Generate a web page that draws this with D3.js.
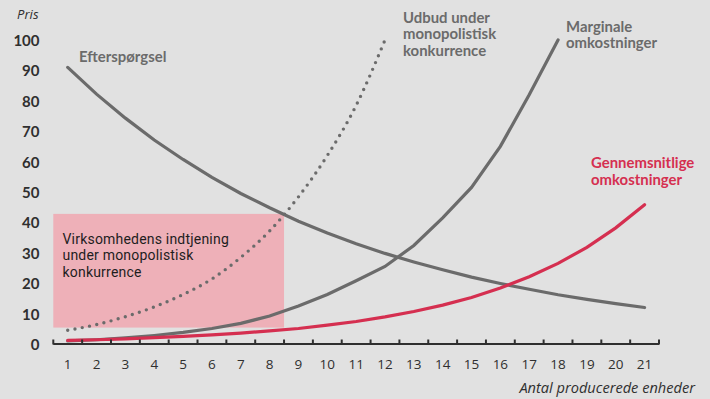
<!DOCTYPE html>
<html lang="da">
<head>
<meta charset="utf-8">
<script src="https://cdn.jsdelivr.net/npm/d3@7"></script>
<style>
  html, body { margin: 0; padding: 0; background: #e1e1e1; }
  svg { display: block; font-family: Lato, "Open Sans", sans-serif; }
</style>
</head>
<body>
<svg id="chart" width="710" height="399"></svg>
<script>
// Quantities produced (x categories)
const quantities = d3.range(1, 22);
// Price axis ticks
const priceTicks = [0, 10, 20, 30, 40, 50, 60, 70, 80, 90, 100];

// Demand curve (Efterspørgsel), one value per quantity 1..21
const demand = [91.0, 82.2, 74.3, 67.1, 60.7, 54.8, 49.5, 44.8, 40.4, 36.5, 33.0,
                29.8, 27.0, 24.4, 22.0, 19.9, 18.0, 16.2, 14.7, 13.3, 12.0];
// Supply under monopolistic competition, quantities 1..12
const supplyMonopolistic = [4.5, 6.4, 9.0, 12.2, 16.3, 21.4, 28.5, 37.2, 48.4, 62.0, 78.5, 100];
// Marginal cost, quantities 1..18
const marginalCost = [1.0, 1.4, 2.0, 2.8, 3.8, 5.1, 6.8, 9.2, 12.5, 16.3, 20.8, 25.5,
                      32.4, 41.5, 51.5, 65.0, 82.0, 100];
// Average cost, quantities 1..21
const averageCost = [1.2, 1.4, 1.7, 2.1, 2.5, 3.0, 3.6, 4.3, 5.1, 6.2, 7.4, 8.9,
                     10.7, 12.8, 15.3, 18.4, 22.1, 26.5, 31.8, 38.2, 45.8];
// Firm's earnings area: quantity span and price span
const earningsQty = [1, 8];
const earningsPrice = [5.4, 42.8];

const svg = d3.select("#chart");
const grey = "#6b6b6b";
const red = "#d52f50";
const ink = "#2f2f2f";
const textFont = "'Open Sans', Lato, sans-serif";

const x = d3.scaleBand().domain(quantities).range([53.3, 659]).padding(0);
const y = d3.scaleLinear().domain([0, 100]).range([344, 40]);
const cx = q => x(q) + x.bandwidth() / 2;

// Multi-line text block built from tspans
function textBlock(g, lines, px, py, lh) {
  const t = g.append("text").attr("x", px).attr("y", py);
  t.selectAll("tspan").data(lines).join("tspan")
    .attr("x", px).attr("dy", (d, i) => i === 0 ? 0 : lh).text(d => d);
  return t;
}

// Earnings rectangle
svg.append("rect")
  .attr("x", x(earningsQty[0]))
  .attr("width", x(earningsQty[1]) + x.bandwidth() - x(earningsQty[0]))
  .attr("y", y(earningsPrice[1]))
  .attr("height", y(earningsPrice[0]) - y(earningsPrice[1]))
  .attr("fill", "#eeb0b8");

// Caption inside the earnings rectangle
textBlock(svg, ["Virksomhedens indtjening", "under monopolistisk", "konkurrence"], 62.5, 244, 16.4)
  .attr("font-family", "Roboto, sans-serif").attr("font-size", 14)
  .attr("letter-spacing", 0.2).attr("fill", "#1e1e1e");

// Curves
const line = d3.line().x((d, i) => cx(quantities[i])).y(d => y(d)).curve(d3.curveLinear);

svg.append("path").datum(demand).attr("d", line)
  .attr("fill", "none").attr("stroke", grey).attr("stroke-width", 3.2).attr("stroke-linecap", "round");
svg.append("path").datum(marginalCost).attr("d", line)
  .attr("fill", "none").attr("stroke", grey).attr("stroke-width", 3.2).attr("stroke-linecap", "round");
svg.append("path").datum(averageCost).attr("d", line)
  .attr("fill", "none").attr("stroke", red).attr("stroke-width", 3.2).attr("stroke-linecap", "round");
svg.append("path").datum(supplyMonopolistic).attr("d", line.curve(d3.curveMonotoneX))
  .attr("fill", "none").attr("stroke", grey).attr("stroke-width", 3.4)
  .attr("stroke-linecap", "round").attr("stroke-dasharray", "0,7.4");

// Y axis labels
const yAxis = svg.append("g").attr("transform", "translate(39.5,0)")
  .call(d3.axisLeft(y).tickValues(priceTicks).tickSize(0).tickPadding(0));
yAxis.select(".domain").remove();
yAxis.selectAll("text").attr("font-family", "Lato, sans-serif").attr("font-size", 15)
  .attr("font-weight", 700).attr("fill", ink).attr("dy", "0.36em");

// X axis: baseline, boundary ticks and labels
const xAxis = svg.append("g").attr("transform", `translate(0,${y(0)})`)
  .call(d3.axisBottom(x).tickSize(0).tickPadding(15));
xAxis.select(".domain").attr("stroke", ink).attr("stroke-width", 2).attr("d", `M${x.range()[0]},0H${x.range()[1]}`);
xAxis.selectAll("text").attr("font-family", textFont).attr("font-size", 13.5)
  .attr("font-weight", 400).attr("fill", ink);
const bounds = quantities.map(q => x(q)).concat([x.range()[1]]);
xAxis.append("g").selectAll("line").data(bounds).join("line")
  .attr("x1", d => d).attr("x2", d => d).attr("y1", -4.5).attr("y2", 0.5)
  .attr("stroke", ink).attr("stroke-width", 2);

// Axis titles
svg.append("text").attr("x", 38.5).attr("y", 18.5).attr("text-anchor", "end")
  .attr("font-family", textFont).attr("font-size", 13).attr("font-style", "italic")
  .attr("fill", ink).text("Pris");
svg.append("text").attr("x", 695).attr("y", 393).attr("text-anchor", "end")
  .attr("font-family", textFont).attr("font-size", 14.6).attr("font-style", "italic")
  .attr("fill", ink).text("Antal producerede enheder");

// Curve labels
function label(lines, px, py, color) {
  textBlock(svg, lines, px, py, 16.5)
    .attr("font-size", 14.9).attr("font-weight", 700).attr("fill", color);
}
label(["Efterspørgsel"], 79, 61.5, grey);
label(["Udbud under", "monopolistisk", "konkurrence"], 403, 22.5, grey);
label(["Marginale", "omkostninger"], 566, 31.5, grey);
label(["Gennemsnitlige", "omkostninger"], 591, 168, red);
</script>
</body>
</html>
